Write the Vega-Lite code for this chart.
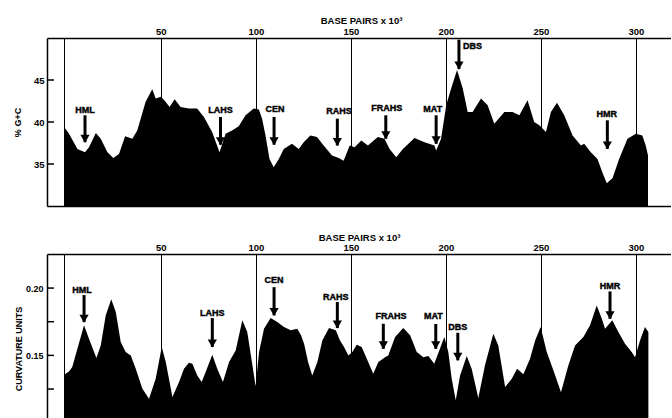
{
  "$schema": "https://vega.github.io/schema/vega-lite/v6.json",
  "background": "white",
  "padding": {"left": 13, "top": 15, "right": 0, "bottom": 0},
  "spacing": 48,
  "bounds": "flush",
  "config": {
    "view": {"stroke": null},
    "font": "Liberation Sans",
    "axis": {
      "domainColor": "black", "domainWidth": 1.5,
      "labelColor": "black", "labelFont": "Liberation Sans", "labelFontWeight": "bold", "labelFontSize": 9,
      "titleFont": "Liberation Sans", "titleFontWeight": "bold", "titleFontSize": 9, "titleColor": "black",
      "tickColor": "black", "tickWidth": 1.5,
      "gridColor": "black", "gridOpacity": 1, "gridWidth": 1
    },
    "text": {"font": "Liberation Sans", "fontWeight": "bold", "fontSize": 9, "color": "black", "stroke": "black", "strokeWidth": 0.4}
  },
  "datasets": {
    "gc": [
      {"kbp": -0.9, "gc": 39.4}, {"kbp": 1.7, "gc": 38.6}, {"kbp": 6.1, "gc": 36.8}, {"kbp": 10.1, "gc": 36.4},
      {"kbp": 12.2, "gc": 37.0}, {"kbp": 15.8, "gc": 38.7}, {"kbp": 18.4, "gc": 38.0}, {"kbp": 21.9, "gc": 36.4},
      {"kbp": 25.0, "gc": 35.7}, {"kbp": 28.0, "gc": 36.2}, {"kbp": 31.2, "gc": 38.3}, {"kbp": 35.0, "gc": 38.0},
      {"kbp": 37.6, "gc": 39.0}, {"kbp": 42.0, "gc": 42.4}, {"kbp": 45.5, "gc": 43.9}, {"kbp": 47.3, "gc": 42.8},
      {"kbp": 50.1, "gc": 43.0}, {"kbp": 52.5, "gc": 42.4}, {"kbp": 54.6, "gc": 41.8}, {"kbp": 57.3, "gc": 42.7},
      {"kbp": 60.4, "gc": 41.8}, {"kbp": 64.8, "gc": 41.6}, {"kbp": 69.1, "gc": 41.6}, {"kbp": 72.7, "gc": 40.6},
      {"kbp": 77.0, "gc": 38.8}, {"kbp": 80.9, "gc": 36.4}, {"kbp": 84.1, "gc": 38.6}, {"kbp": 87.5, "gc": 39.0},
      {"kbp": 91.0, "gc": 39.5}, {"kbp": 94.6, "gc": 40.8}, {"kbp": 98.9, "gc": 41.6}, {"kbp": 101.6, "gc": 41.5},
      {"kbp": 103.3, "gc": 40.4}, {"kbp": 105.1, "gc": 38.4}, {"kbp": 107.2, "gc": 35.6}, {"kbp": 109.4, "gc": 34.6},
      {"kbp": 112.1, "gc": 35.6}, {"kbp": 114.7, "gc": 36.8}, {"kbp": 119.0, "gc": 37.4}, {"kbp": 122.6, "gc": 36.8},
      {"kbp": 125.2, "gc": 37.6}, {"kbp": 128.7, "gc": 38.4}, {"kbp": 132.2, "gc": 38.2}, {"kbp": 135.7, "gc": 37.2},
      {"kbp": 140.1, "gc": 36.0}, {"kbp": 143.6, "gc": 35.7}, {"kbp": 146.2, "gc": 35.4}, {"kbp": 148.0, "gc": 36.4},
      {"kbp": 149.4, "gc": 37.2}, {"kbp": 152.0, "gc": 37.0}, {"kbp": 155.5, "gc": 37.8}, {"kbp": 159.0, "gc": 37.2},
      {"kbp": 164.2, "gc": 38.2}, {"kbp": 167.7, "gc": 38.0}, {"kbp": 170.4, "gc": 36.8}, {"kbp": 173.9, "gc": 35.8},
      {"kbp": 177.4, "gc": 36.8}, {"kbp": 183.5, "gc": 38.1}, {"kbp": 188.8, "gc": 37.6}, {"kbp": 194.0, "gc": 37.2},
      {"kbp": 194.9, "gc": 36.6}, {"kbp": 197.5, "gc": 38.0}, {"kbp": 200.2, "gc": 42.0}, {"kbp": 202.8, "gc": 44.0},
      {"kbp": 205.9, "gc": 46.2}, {"kbp": 208.9, "gc": 44.0}, {"kbp": 211.5, "gc": 41.2}, {"kbp": 214.1, "gc": 41.2},
      {"kbp": 218.5, "gc": 42.8}, {"kbp": 222.0, "gc": 42.0}, {"kbp": 225.5, "gc": 39.8}, {"kbp": 230.8, "gc": 41.2},
      {"kbp": 235.1, "gc": 41.2}, {"kbp": 238.7, "gc": 40.8}, {"kbp": 243.0, "gc": 42.6}, {"kbp": 246.5, "gc": 40.0},
      {"kbp": 249.2, "gc": 39.6}, {"kbp": 252.7, "gc": 38.8}, {"kbp": 255.3, "gc": 41.2}, {"kbp": 258.5, "gc": 42.3},
      {"kbp": 262.3, "gc": 40.8}, {"kbp": 266.7, "gc": 38.4}, {"kbp": 271.1, "gc": 37.2}, {"kbp": 272.8, "gc": 37.4},
      {"kbp": 276.3, "gc": 36.4}, {"kbp": 279.8, "gc": 35.6}, {"kbp": 282.4, "gc": 34.0}, {"kbp": 284.7, "gc": 32.7},
      {"kbp": 287.7, "gc": 33.3}, {"kbp": 291.2, "gc": 35.6}, {"kbp": 295.6, "gc": 38.0}, {"kbp": 300.0, "gc": 38.6},
      {"kbp": 303.4, "gc": 38.4}, {"kbp": 305.2, "gc": 37.2}, {"kbp": 306.4, "gc": 36.0}
    ],
    "curv": [
      {"kbp": -0.9, "c": 0.1356}, {"kbp": 1.7, "c": 0.1381}, {"kbp": 3.4, "c": 0.1413}, {"kbp": 6.1, "c": 0.1549},
      {"kbp": 9.6, "c": 0.1723}, {"kbp": 12.2, "c": 0.1623}, {"kbp": 16.1, "c": 0.1480}, {"kbp": 18.4, "c": 0.1574},
      {"kbp": 21.0, "c": 0.1797}, {"kbp": 23.9, "c": 0.1916}, {"kbp": 26.3, "c": 0.1822}, {"kbp": 28.9, "c": 0.1599},
      {"kbp": 31.5, "c": 0.1525}, {"kbp": 34.2, "c": 0.1500}, {"kbp": 36.8, "c": 0.1401}, {"kbp": 40.3, "c": 0.1252},
      {"kbp": 43.8, "c": 0.1178}, {"kbp": 47.3, "c": 0.1326}, {"kbp": 50.5, "c": 0.1562}, {"kbp": 52.6, "c": 0.1450},
      {"kbp": 56.1, "c": 0.1190}, {"kbp": 59.6, "c": 0.1302}, {"kbp": 62.2, "c": 0.1401}, {"kbp": 64.8, "c": 0.1445},
      {"kbp": 66.6, "c": 0.1438}, {"kbp": 69.2, "c": 0.1351}, {"kbp": 71.5, "c": 0.1302}, {"kbp": 73.6, "c": 0.1376},
      {"kbp": 77.1, "c": 0.1505}, {"kbp": 79.7, "c": 0.1401}, {"kbp": 82.7, "c": 0.1302}, {"kbp": 85.9, "c": 0.1450},
      {"kbp": 89.4, "c": 0.1537}, {"kbp": 92.9, "c": 0.1760}, {"kbp": 95.5, "c": 0.1673}, {"kbp": 98.2, "c": 0.1426},
      {"kbp": 99.9, "c": 0.1270}, {"kbp": 101.7, "c": 0.1525}, {"kbp": 104.3, "c": 0.1698}, {"kbp": 107.8, "c": 0.1777},
      {"kbp": 111.3, "c": 0.1747}, {"kbp": 114.8, "c": 0.1710}, {"kbp": 118.4, "c": 0.1686}, {"kbp": 121.8, "c": 0.1698},
      {"kbp": 123.8, "c": 0.1649}, {"kbp": 125.4, "c": 0.1586}, {"kbp": 127.5, "c": 0.1450}, {"kbp": 129.7, "c": 0.1351},
      {"kbp": 132.4, "c": 0.1450}, {"kbp": 135.0, "c": 0.1611}, {"kbp": 138.5, "c": 0.1703}, {"kbp": 142.1, "c": 0.1686},
      {"kbp": 144.3, "c": 0.1611}, {"kbp": 146.5, "c": 0.1560}, {"kbp": 148.7, "c": 0.1500}, {"kbp": 150.8, "c": 0.1525},
      {"kbp": 153.1, "c": 0.1579}, {"kbp": 155.7, "c": 0.1562}, {"kbp": 158.4, "c": 0.1475}, {"kbp": 161.8, "c": 0.1363},
      {"kbp": 164.5, "c": 0.1450}, {"kbp": 168.0, "c": 0.1487}, {"kbp": 169.7, "c": 0.1500}, {"kbp": 173.3, "c": 0.1636},
      {"kbp": 177.6, "c": 0.1703}, {"kbp": 181.2, "c": 0.1649}, {"kbp": 184.7, "c": 0.1525}, {"kbp": 188.2, "c": 0.1487},
      {"kbp": 190.8, "c": 0.1495}, {"kbp": 193.9, "c": 0.1438}, {"kbp": 196.9, "c": 0.1549}, {"kbp": 199.2, "c": 0.1636},
      {"kbp": 201.3, "c": 0.1525}, {"kbp": 203.1, "c": 0.1326}, {"kbp": 205.2, "c": 0.1166}, {"kbp": 207.5, "c": 0.1351},
      {"kbp": 211.0, "c": 0.1495}, {"kbp": 213.6, "c": 0.1401}, {"kbp": 217.1, "c": 0.1183}, {"kbp": 220.6, "c": 0.1426},
      {"kbp": 225.0, "c": 0.1661}, {"kbp": 227.6, "c": 0.1574}, {"kbp": 231.2, "c": 0.1265}, {"kbp": 234.7, "c": 0.1326},
      {"kbp": 237.5, "c": 0.1400}, {"kbp": 240.8, "c": 0.1360}, {"kbp": 244.3, "c": 0.1475}, {"kbp": 247.0, "c": 0.1611},
      {"kbp": 249.9, "c": 0.1710}, {"kbp": 253.1, "c": 0.1525}, {"kbp": 256.6, "c": 0.1389}, {"kbp": 260.6, "c": 0.1227},
      {"kbp": 264.5, "c": 0.1426}, {"kbp": 268.0, "c": 0.1574}, {"kbp": 272.4, "c": 0.1636}, {"kbp": 275.9, "c": 0.1723},
      {"kbp": 279.4, "c": 0.1871}, {"kbp": 282.1, "c": 0.1772}, {"kbp": 283.8, "c": 0.1698}, {"kbp": 287.6, "c": 0.1760},
      {"kbp": 290.8, "c": 0.1673}, {"kbp": 294.3, "c": 0.1586}, {"kbp": 297.8, "c": 0.1525}, {"kbp": 299.6, "c": 0.1487},
      {"kbp": 302.2, "c": 0.1611}, {"kbp": 304.8, "c": 0.1710}, {"kbp": 306.6, "c": 0.1673}
    ],
    "gcArrows": [
      {"name": "HML", "ax": 10.1, "lx": 10.1, "ly": 41.4, "ay1": 40.8, "ay2": 37.6},
      {"name": "LAHS", "ax": 81.4, "lx": 81.4, "ly": 41.4, "ay1": 40.6, "ay2": 37.3},
      {"name": "CEN", "ax": 109.6, "lx": 110.1, "ly": 41.5, "ay1": 40.6, "ay2": 37.3},
      {"name": "RAHS", "ax": 142.9, "lx": 143.8, "ly": 41.3, "ay1": 40.4, "ay2": 37.2},
      {"name": "FRAHS", "ax": 168.4, "lx": 168.9, "ly": 41.7, "ay1": 40.8, "ay2": 38.0},
      {"name": "MAT", "ax": 194.9, "lx": 193.1, "ly": 41.5, "ay1": 40.8, "ay2": 37.4},
      {"name": "DBS", "ax": 206.9, "lx": 214.0, "ly": 49.1, "ay1": 49.8, "ay2": 46.3},
      {"name": "HMR", "ax": 285.0, "lx": 284.7, "ly": 40.9, "ay1": 40.2, "ay2": 36.8}
    ],
    "curvArrows": [
      {"name": "HML", "ax": 9.6, "lx": 8.5, "ly": 0.1983, "ay1": 0.1948, "ay2": 0.1747},
      {"name": "LAHS", "ax": 77.1, "lx": 77.1, "ly": 0.1817, "ay1": 0.1777, "ay2": 0.1562},
      {"name": "CEN", "ax": 109.6, "lx": 109.6, "ly": 0.2057, "ay1": 0.2007, "ay2": 0.1797},
      {"name": "RAHS", "ax": 142.9, "lx": 142.1, "ly": 0.1933, "ay1": 0.1896, "ay2": 0.1703},
      {"name": "FRAHS", "ax": 167.1, "lx": 171.2, "ly": 0.1790, "ay1": 0.1735, "ay2": 0.1549},
      {"name": "MAT", "ax": 194.7, "lx": 193.4, "ly": 0.1792, "ay1": 0.1733, "ay2": 0.1549},
      {"name": "DBS", "ax": 206.3, "lx": 206.3, "ly": 0.1710, "ay1": 0.1668, "ay2": 0.1463},
      {"name": "HMR", "ax": 286.4, "lx": 286.4, "ly": 0.2015, "ay1": 0.1975, "ay2": 0.1772}
    ],
    "gcTicks": [{"t": 35}, {"t": 40}, {"t": 45}],
    "curvTicks": [{"t": 0.125}, {"t": 0.15}, {"t": 0.175}, {"t": 0.2}]
  },
  "vconcat": [
    {
      "width": 624,
      "height": 168,
      "resolve": {"axis": {"x": "independent", "y": "independent"}},
      "layer": [
        {
          "data": {"name": "gc"},
          "mark": {"type": "area", "color": "black", "clip": true, "interpolate": "linear"},
          "encoding": {
            "x": {"field": "kbp", "type": "quantitative",
              "scale": {"domain": [-9.9, 318.5], "nice": false, "zero": false},
              "axis": {"orient": "top", "values": [-0.9, 50, 100, 150, 200, 250, 300],
                "labelExpr": "datum.value < 0 ? '' : datum.label",
                "ticks": false, "grid": true, "labelPadding": 2, "labelFontSize": 9.5,
                "labelFlush": false, "labelOverlap": false,
                "title": "BASE  PAIRS x 10³", "titleFontSize": 9.5, "titleY": -18, "titleX": 314, "titleBaseline": "middle"}},
            "y": {"field": "gc", "type": "quantitative",
              "scale": {"domain": [30, 50], "nice": false, "zero": false},
              "axis": {"values": [35, 40, 45], "ticks": false, "labelPadding": 3, "grid": false,
                "title": "% G+C", "titleX": -30, "titleBaseline": "middle", "labelFontSize": 9.5}}
          }
        },
        {
          "data": {"name": "gcTicks"},
          "mark": {"type": "tick", "orient": "horizontal", "color": "black", "thickness": 1.5, "size": 7, "xOffset": 3.5, "opacity": 1},
          "encoding": {
            "x": {"datum": -9.9, "type": "quantitative", "axis": null},
            "y": {"field": "t", "type": "quantitative", "axis": null}
          }
        },
        {
          "data": {"name": "gcArrows"},
          "mark": {"type": "rule", "color": "black", "strokeWidth": 3},
          "encoding": {
            "x": {"field": "ax", "type": "quantitative",
              "axis": {"orient": "bottom", "labels": false, "ticks": false, "grid": false, "title": null}},
            "y": {"field": "ay1", "type": "quantitative", "axis": null},
            "y2": {"field": "ay2"}
          }
        },
        {
          "data": {"name": "gcArrows"},
          "mark": {"type": "point", "shape": "triangle-down", "filled": true, "color": "black", "size": 85, "opacity": 1, "yOffset": -3.5},
          "encoding": {
            "x": {"field": "ax", "type": "quantitative", "axis": null},
            "y": {"field": "ay2", "type": "quantitative", "axis": null}
          }
        },
        {
          "data": {"name": "gcArrows"},
          "mark": {"type": "text", "baseline": "middle", "align": "center"},
          "encoding": {
            "x": {"field": "lx", "type": "quantitative", "axis": null},
            "y": {"field": "ly", "type": "quantitative", "axis": null},
            "text": {"field": "name"}
          }
        }
      ]
    },
    {
      "width": 624,
      "height": 166,
      "resolve": {"axis": {"x": "independent", "y": "independent"}},
      "layer": [
        {
          "data": {"name": "curv"},
          "mark": {"type": "area", "color": "black", "clip": true, "interpolate": "linear"},
          "encoding": {
            "x": {"field": "kbp", "type": "quantitative",
              "scale": {"domain": [-9.9, 318.5], "nice": false, "zero": false},
              "axis": {"orient": "top", "values": [-0.9, 50, 100, 150, 200, 250, 300],
                "labelExpr": "datum.value < 0 ? '' : datum.label",
                "ticks": false, "grid": true, "labelPadding": 2, "labelFontSize": 9.5,
                "labelFlush": false, "labelOverlap": false,
                "title": "BASE  PAIRS x 10³", "titleFontSize": 9.5, "titleY": -17, "titleX": 312, "titleBaseline": "middle"}},
            "y": {"field": "c", "type": "quantitative",
              "scale": {"domain": [0.102, 0.2253], "nice": false, "zero": false},
              "axis": {"values": [0.125, 0.15, 0.175, 0.2], "ticks": false, "labelPadding": 4, "grid": false,
                "labelExpr": "datum.value == 0.2 || datum.value == 0.15 ? format(datum.value, '.2f') : ''",
                "title": "CURVATURE UNITS", "titleX": -29, "titleY": 94.5, "titleBaseline": "middle", "labelFontSize": 9}}
          }
        },
        {
          "data": {"name": "curvTicks"},
          "mark": {"type": "tick", "orient": "horizontal", "color": "black", "thickness": 1.5, "size": 7, "xOffset": 3.5, "opacity": 1},
          "encoding": {
            "x": {"datum": -9.9, "type": "quantitative", "axis": null},
            "y": {"field": "t", "type": "quantitative", "axis": null}
          }
        },
        {
          "data": {"name": "curvArrows"},
          "mark": {"type": "rule", "color": "black", "strokeWidth": 3},
          "encoding": {
            "x": {"field": "ax", "type": "quantitative", "axis": null},
            "y": {"field": "ay1", "type": "quantitative", "axis": null},
            "y2": {"field": "ay2"}
          }
        },
        {
          "data": {"name": "curvArrows"},
          "mark": {"type": "point", "shape": "triangle-down", "filled": true, "color": "black", "size": 85, "opacity": 1, "yOffset": -3.5},
          "encoding": {
            "x": {"field": "ax", "type": "quantitative", "axis": null},
            "y": {"field": "ay2", "type": "quantitative", "axis": null}
          }
        },
        {
          "data": {"name": "curvArrows"},
          "mark": {"type": "text", "baseline": "middle", "align": "center"},
          "encoding": {
            "x": {"field": "lx", "type": "quantitative", "axis": null},
            "y": {"field": "ly", "type": "quantitative", "axis": null},
            "text": {"field": "name"}
          }
        }
      ]
    }
  ]
}
